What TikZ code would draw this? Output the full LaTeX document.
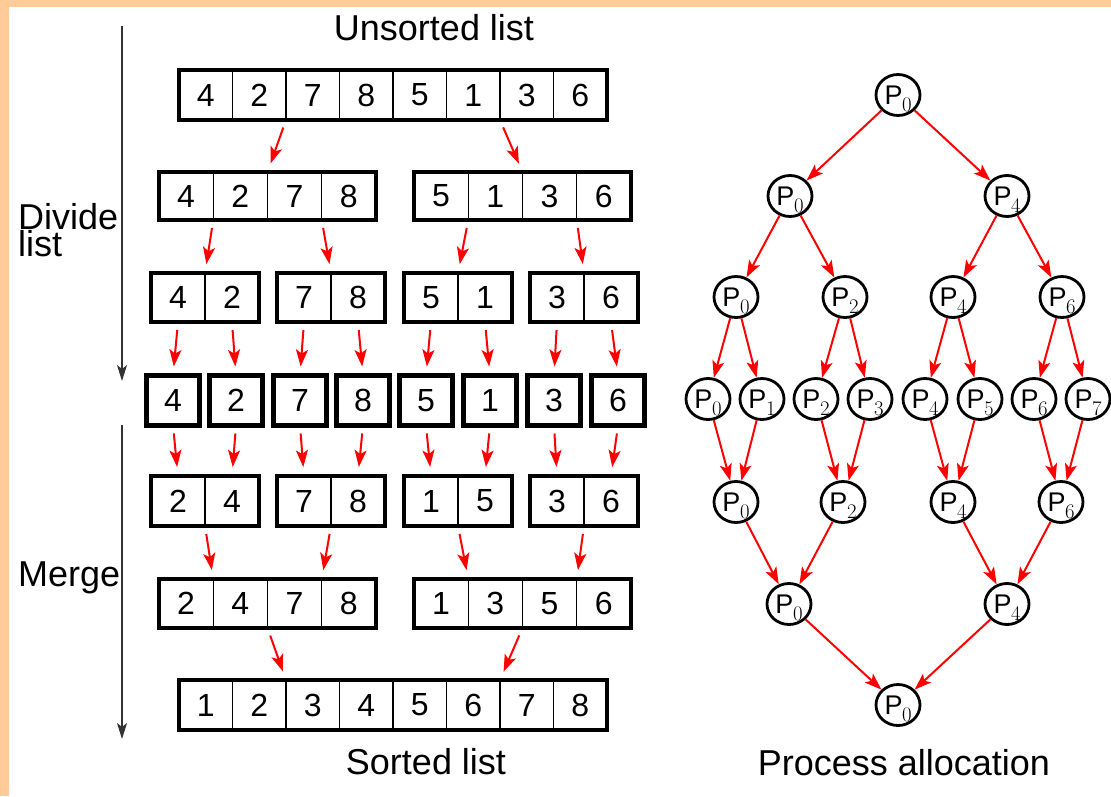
\documentclass[tikz,border=0pt]{standalone}
\usepackage{fontspec}
\setmainfont{Liberation Sans}
\usetikzlibrary{arrows.meta,shapes.geometric}
\definecolor{peach}{HTML}{FFCC99}
\definecolor{axisgray}{HTML}{333333}
\tikzset{
  cell/.style={draw, line width=1.3pt, anchor=north west, inner sep=0pt, outer sep=0pt, font=\fontsize{32}{32}\selectfont, text=black},
  outerbox/.style={draw, line width=4pt},
  singlebox/.style={draw, line width=5pt},
  redarrow/.style={red, line width=2pt, shorten <=8pt, shorten >=9pt, -{Stealth[length=17pt,width=12pt,inset=4pt]}},
  treearrow/.style={red, line width=2pt, -{Stealth[length=17pt,width=12pt,inset=4pt]}},
  axisarrow/.style={axisgray, line width=1.5pt, -{Stealth[length=16pt,width=10pt,inset=4pt]}},
  proc/.style={ellipse, draw, line width=2.8pt, minimum width=44pt, minimum height=41pt, inner sep=0pt, font=\fontsize{27}{27}\selectfont},
  txt/.style={font=\fontsize{36}{36}\selectfont, inner sep=0pt},
}
\newcommand\psub[1]{P\kern-0.5pt\raisebox{-7pt}[0pt][0pt]{\fontsize{22}{22}\selectfont$#1$}}
\newcommand\cellgroup[7]{%
  \foreach \dd [count=\ii from 0] in {#7} {
    \pgfmathtruncatemacro\kk{#2+\ii}
    \node[cell, minimum width=#5pt, minimum height=#6pt] (L#1-\kk) at ({#3+\ii*#5}, #4) {\dd};
  }%
}
\begin{document}
\begin{tikzpicture}[x=1pt,y=-1pt]
\useasboundingbox (0,0) rectangle (1111,796);
\fill[peach] (0,0) rectangle (1111,796);
\fill[white] (9,7) rectangle (1111,796);

% level 1
\cellgroup{1}{1}{179}{70}{53.5}{50}{4,2,7,8,5,1,3,6}
\draw[outerbox] (L1-1.north west) rectangle (L1-8.south east);
% level 2
\cellgroup{2}{1}{159}{172}{54.25}{48}{4,2,7,8}
\cellgroup{2}{5}{414}{172}{54.25}{48}{5,1,3,6}
\draw[outerbox] (L2-1.north west) rectangle (L2-4.south east);
\draw[outerbox] (L2-5.north west) rectangle (L2-8.south east);
% level 3
\cellgroup{3}{1}{151}{273}{54}{49}{4,2}
\cellgroup{3}{3}{277}{273}{54}{49}{7,8}
\cellgroup{3}{5}{404}{273}{54}{49}{5,1}
\cellgroup{3}{7}{530}{273}{54}{49}{3,6}
\foreach \a/\b in {1/2,3/4,5/6,7/8}
  \draw[outerbox] (L3-\a.north west) rectangle (L3-\b.south east);
% level 4
\cellgroup{4}{1}{146.5}{375.5}{53}{50}{4}
\cellgroup{4}{2}{209.5}{375.5}{53}{50}{2}
\cellgroup{4}{3}{273.5}{375.5}{53}{50}{7}
\cellgroup{4}{4}{336.5}{375.5}{53}{50}{8}
\cellgroup{4}{5}{399.5}{375.5}{53}{50}{5}
\cellgroup{4}{6}{463.5}{375.5}{53}{50}{1}
\cellgroup{4}{7}{527.5}{375.5}{53}{50}{3}
\cellgroup{4}{8}{591.5}{375.5}{53}{50}{6}
\foreach \a in {1,...,8}
  \draw[singlebox] (L4-\a.north west) rectangle (L4-\a.south east);
% level 5
\cellgroup{5}{1}{151}{476}{54}{50}{2,4}
\cellgroup{5}{3}{277}{476}{54}{50}{7,8}
\cellgroup{5}{5}{404}{476}{54}{50}{1,5}
\cellgroup{5}{7}{530}{476}{54}{50}{3,6}
\foreach \a/\b in {1/2,3/4,5/6,7/8}
  \draw[outerbox] (L5-\a.north west) rectangle (L5-\b.south east);
% level 6
\cellgroup{6}{1}{159}{579}{54.25}{49}{2,4,7,8}
\cellgroup{6}{5}{414}{579}{54.25}{49}{1,3,5,6}
\draw[outerbox] (L6-1.north west) rectangle (L6-4.south east);
\draw[outerbox] (L6-5.north west) rectangle (L6-8.south east);
% level 7
\cellgroup{7}{1}{179}{680}{53.5}{50}{1,2,3,4,5,6,7,8}
\draw[outerbox] (L7-1.north west) rectangle (L7-8.south east);

% red arrows, divide
\draw[redarrow] (L1-2.south east) -- (L2-2.north east);
\draw[redarrow] (L1-6.south east) -- (L2-6.north east);
\foreach \a in {1,3,5,7}
  \draw[redarrow] (L2-\a.south east) -- (L3-\a.north east);
\foreach \a in {1,...,8}
  \draw[redarrow] (L3-\a.south) -- (L4-\a.north);
% merge
\foreach \a in {1,...,8}
  \draw[redarrow] (L4-\a.south) -- (L5-\a.north);
\foreach \a in {1,3,5,7}
  \draw[redarrow] (L5-\a.south east) -- (L6-\a.north east);
\draw[redarrow] (L6-2.south east) -- (L7-2.north east);
\draw[redarrow] (L6-6.south east) -- (L7-6.north east);

% axis arrows
\coordinate (ax1s) at (122,26);
\coordinate (ax1e) at (122,381);
\coordinate (ax2s) at (122,425);
\coordinate (ax2e) at (122,739);
\draw[axisarrow] (ax1s) -- (ax1e);
\draw[axisarrow] (ax2s) -- (ax2e);

% labels
\node[txt, anchor=base] (unsorted) at (434,40) {Unsorted list};
\node[txt, anchor=base] (sorted) at (426,774) {Sorted list};
\node[txt, anchor=base] (alloc) at (904,775) {Process allocation};
\node[txt, font=\fontsize{36}{25}\selectfont, align=left, anchor=north west] (divide) at (18,203) {Divide\\list};
\node[txt, anchor=base west] (merge) at (18,586) {Merge};

% process tree
\node[proc] (a0) at (898,95) {\psub{0}};
\node[proc] (b0) at (790,196) {\psub{0}};
\node[proc] (b4) at (1007,196) {\psub{4}};
\node[proc] (c0) at (736,297) {\psub{0}};
\node[proc] (c2) at (845,297) {\psub{2}};
\node[proc] (c4) at (953,297) {\psub{4}};
\node[proc] (c6) at (1062,297) {\psub{6}};
\node[proc] (d0) at (708,399) {\psub{0}};
\node[proc] (d1) at (762,399) {\psub{1}};
\node[proc] (d2) at (816,399) {\psub{2}};
\node[proc] (d3) at (870,399) {\psub{3}};
\node[proc] (d4) at (925,399) {\psub{4}};
\node[proc] (d5) at (980,399) {\psub{5}};
\node[proc] (d6) at (1034,399) {\psub{6}};
\node[proc] (d7) at (1088,399) {\psub{7}};
\node[proc] (e0) at (736,502) {\psub{0}};
\node[proc] (e2) at (843,502) {\psub{2}};
\node[proc] (e4) at (953,502) {\psub{4}};
\node[proc] (e6) at (1061,502) {\psub{6}};
\node[proc] (f0) at (789,604) {\psub{0}};
\node[proc] (f4) at (1007,604) {\psub{4}};
\node[proc] (g0) at (898,705) {\psub{0}};

\foreach \s/\t in {a0/b0,a0/b4,b0/c0,b0/c2,b4/c4,b4/c6,
  c0/d0,c0/d1,c2/d2,c2/d3,c4/d4,c4/d5,c6/d6,c6/d7,
  d0/e0,d1/e0,d2/e2,d3/e2,d4/e4,d5/e4,d6/e6,d7/e6,
  e0/f0,e2/f0,e4/f4,e6/f4,f0/g0,f4/g0}
  \draw[treearrow] (\s) -- (\t);
\end{tikzpicture}
\end{document}
